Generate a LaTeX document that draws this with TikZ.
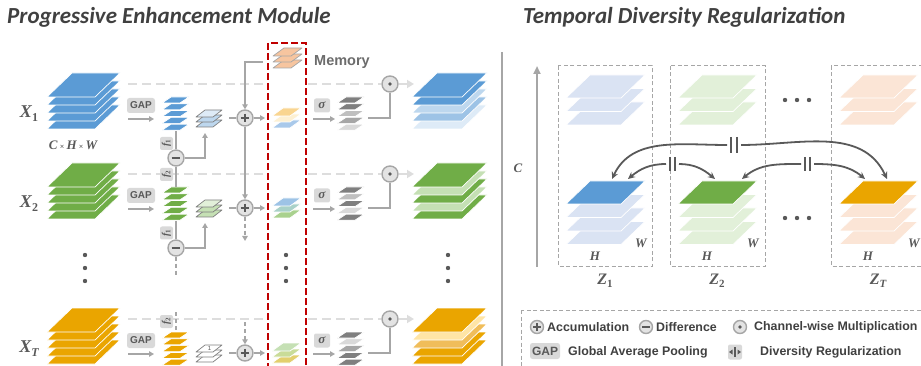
\documentclass[tikz,border=0pt]{standalone}
\usepackage{fontspec}
\setmainfont{Liberation Sans}
\newfontfamily\titlef{Carlito}
\newfontfamily\serf{Liberation Serif}
\usetikzlibrary{arrows.meta}
\definecolor{bD}{HTML}{5B9BD5}
\definecolor{bL}{HTML}{BDD7EE}
\definecolor{bM}{HTML}{9DC3E6}
\definecolor{bV}{HTML}{DEEBF7}
\definecolor{bZ}{HTML}{DAE3F3}
\definecolor{gD}{HTML}{70AD47}
\definecolor{gL}{HTML}{C5E0B4}
\definecolor{gV}{HTML}{E2F0D9}
\definecolor{oD}{HTML}{EAA500}
\definecolor{oL}{HTML}{FFE5A6}
\definecolor{oM}{HTML}{F0BD5A}
\definecolor{oP}{HTML}{FBE5D6}
\definecolor{lg}{HTML}{A6A6A6}
\definecolor{dg}{HTML}{595959}
\definecolor{ll}{HTML}{DDDDDD}
\definecolor{tx}{HTML}{404040}
\definecolor{cf}{HTML}{E3E3E3}
\definecolor{bx}{HTML}{D9D9D9}
\definecolor{rd}{HTML}{C00000}
\definecolor{gA}{HTML}{7F7F7F}
\definecolor{gB}{HTML}{BFBFBF}
\definecolor{gC}{HTML}{D9D9D9}
\definecolor{gM}{HTML}{A6A6A6}
\definecolor{mO}{HTML}{F7C59F}
\definecolor{m1a}{HTML}{F9D590}
\definecolor{m1b}{HTML}{FDF0D2}
\definecolor{m1c}{HTML}{A9C9EA}
\definecolor{m2a}{HTML}{9DC3E6}
\definecolor{m2b}{HTML}{A9D1C8}
\definecolor{m2c}{HTML}{A9D18E}
\definecolor{mTa}{HTML}{C5E0B4}
\definecolor{mTb}{HTML}{C9DC98}
\definecolor{mTc}{HTML}{E2CF6D}
% stack: x(bottom-left) ytop w skew h step n {fill/draw list, bottom to top}
\newcommand\stk[8]{%
  \foreach \fc/\dc [count=\k] in {#8}{%
    \pgfmathsetmacro\yb{#2+#5+(#7-\k)*#6}%
    \filldraw[fill=\fc,draw=\dc,line width=0.7pt,line join=round] (#1,\yb) -- ++(#3,0) -- ++(#4,-#5) -- ++(-#3,0) -- cycle;
  }}
\newcommand\opnode[4]{\node[opc,minimum size=2*#4pt] (#1) at (#2,#3) {};}
\newcommand\plusop[4]{\opnode{#1}{#2}{#3}{#4}\draw[sym] (#2-0.56*#4,#3) -- (#2+0.56*#4,#3) (#2,#3-0.56*#4) -- (#2,#3+0.56*#4);}
\newcommand\minusop[4]{\opnode{#1}{#2}{#3}{#4}\draw[sym] (#2-0.56*#4,#3) -- (#2+0.56*#4,#3);}
\newcommand\dotop[4]{\opnode{#1}{#2}{#3}{#4}\fill[dg] (#2,#3) circle (1.9);}
\begin{document}
\begin{tikzpicture}[x=1pt,y=-1pt,
 ln/.style={draw=lg,line width=2pt},
 arr/.style={ln,-{Triangle[length=5pt,width=5.5pt]}},
 darr/.style={arr,dash pattern=on 4pt off 3pt},
 dln/.style={ln,dash pattern=on 4pt off 3pt},
 dsh/.style={draw=ll,line width=2.8pt,dash pattern=on 9pt off 5pt},
 opc/.style={circle,draw=lg,fill=cf,line width=1.4pt,inner sep=0pt},
 sym/.style={draw=dg,line width=1.9pt},
 gapbox/.style={fill=bx,rounded corners=2.5pt,minimum width=28pt,minimum height=15pt,inner sep=0pt,text=dg,font=\bfseries\fontsize{10}{10}\selectfont},
 sigbox/.style={fill=bx,rounded corners=2pt,minimum width=16pt,minimum height=14pt,inner sep=0pt,text=dg,font=\serf\bfseries\itshape\fontsize{13}{13}\selectfont},
 fbox/.style={fill=bx,rounded corners=2pt,minimum size=13pt,inner sep=0pt,rotate=90,text=dg,font=\serf\bfseries\itshape\fontsize{10}{10}\selectfont},
 lab/.style={text=dg,font=\serf\bfseries\itshape\fontsize{18}{18}\selectfont,inner sep=0pt},
 sml/.style={text=dg,font=\serf\bfseries\itshape\fontsize{13}{13}\selectfont,inner sep=0pt},
 zlab/.style={text=dg,font=\serf\bfseries\itshape\fontsize{16}{16}\selectfont,inner sep=0pt},
 zbox/.style={draw=lg,line width=1pt,dash pattern=on 4pt off 2.5pt},
 rarr/.style={draw=dg,line width=1.8pt,-{Stealth[length=7pt,width=6.5pt]}},
 bar/.style={draw=dg,line width=1.6pt},
 legt/.style={text=tx,font=\bfseries\fontsize{12.4}{12.4}\selectfont,anchor=west,inner sep=0pt},
 ttl/.style={text=tx,font=\titlef\bfseries\itshape\fontsize{23}{23}\selectfont,anchor=base west,inner sep=0pt}
]
\useasboundingbox (0,0) rectangle (921,366);
\clip (0,0) rectangle (921,366);

% titles
\node[ttl] (t1) at (7,24) {Progressive Enhancement Module};
\node[ttl] (t2) at (523,24) {Temporal Diversity Regularization};

% multiplication nodes first, then dashed skip lines
\foreach \o/\n in {0/1,90/2,235/T}{
  \dotop{mul\n}{390}{84+\o}{8}
  \coordinate (xs\n) at (128,84+\o);
  \coordinate (mA\n) at (266,84+\o);
  \coordinate (mB\n) at (308,84+\o);
  \coordinate (oi\n) at (414,84+\o);
  \draw[dsh] (xs\n) -- (mA\n);
  \draw[dsh] (mB\n) -- (mul\n.west);
  \draw[dsh,-{Triangle[length=7pt,width=8pt]}] (mul\n.east) -- (oi\n);
}

% common row parts
\foreach \o/\n in {0/1,90/2,235/T}{
  \node[gapbox] (gap\n) at (141,105.5+\o) {GAP};
  \coordinate (ga\n) at (128,119+\o); \coordinate (gb\n) at (154,119+\o);
  \draw[arr] (ga\n) -- (gb\n);
  \plusop{acc\n}{245}{118+\o}{8}
  \coordinate (ls\n) at (229,118+\o);
  \draw[ln] (ls\n) -- (acc\n.west);
  \coordinate (ms\n) at (265,118+\o);
  \draw[arr] (acc\n.east) -- (ms\n);
  \node[sigbox] (sig\n) at (322,105.5+\o) {σ};
  \coordinate (sa\n) at (313,119+\o); \coordinate (sb\n) at (335,119+\o);
  \draw[arr] (sa\n) -- (sb\n);
  \coordinate (gr\n) at (368,118+\o);
  \draw[ln] (gr\n) -| (mul\n.south);
}

% input stacks
\stk{47}{73}{48}{25}{24}{8}{5}{bD/white,bD/white,bD/white,bD/white,bD/white}
\stk{47}{163}{48}{25}{24}{8}{5}{gD/white,gD/white,gD/white,gD/white,gD/white}
\stk{47}{308}{48}{25}{24}{8}{5}{oD/white,oD/white,oD/white,oD/white,oD/white}
\node[lab] (x1) at (29,114) {X\raisebox{-4pt}{\fontsize{12}{12}\selectfont\upshape 1}};
\node[lab] (x2) at (29,204) {X\raisebox{-4pt}{\fontsize{12}{12}\selectfont\upshape 2}};
\node[lab] (xT) at (29,349) {X\raisebox{-4pt}{\fontsize{12}{12}\selectfont T}};
\node[sml] (chw) at (73,145) {C\,{\fontsize{8}{8}\selectfont\upshape ×}\,H\,{\fontsize{8}{8}\selectfont\upshape ×}\,W};

% GAP output stacks
\stk{162}{97}{18}{9}{6}{6.8}{5}{bD/white,bD/white,bD/white,bD/white,bD/white}
\stk{162}{187}{18}{9}{6}{6.8}{5}{gD/white,gD/white,gD/white,gD/white,gD/white}
\stk{162}{332}{18}{9}{6}{6.8}{5}{oD/white,oD/white,oD/white,oD/white,oD/white}

% difference branch
\minusop{dif1}{176}{158}{8}
\minusop{dif2}{176}{248}{8}
\coordinate (gs1b) at (176,131);
\coordinate (gs2t) at (176,187);
\coordinate (gs2b) at (176,221);
\coordinate (d2e) at (176,276);
\coordinate (dTs) at (176,312);
\coordinate (gsTt) at (176,332);
\draw[ln] (gs1b) -- (dif1.north);
\draw[ln] (dif1.south) -- (gs2t);
\draw[ln] (gs2b) -- (dif2.north);
\draw[dln] (dif2.south) -- (d2e);
\draw[dln] (dTs) -- (gsTt);
\node[fbox] (f11) at (166.5,143.5) {f\raisebox{-1.5pt}{\fontsize{7}{7}\selectfont\upshape 1}};
\node[fbox] (f21) at (166.5,174.5) {f\raisebox{-1.5pt}{\fontsize{7}{7}\selectfont\upshape 2}};
\node[fbox] (f12) at (166.5,233) {f\raisebox{-1.5pt}{\fontsize{7}{7}\selectfont\upshape 1}};
\node[fbox] (f2T) at (166.5,321.5) {f\raisebox{-1.5pt}{\fontsize{7}{7}\selectfont\upshape 2}};
\coordinate (lt1) at (205,133);
\coordinate (lt2) at (205,223);
\draw[arr] (dif1.east) -| (lt1);
\draw[arr] (dif2.east) -| (lt2);

% difference output stacks
\stk{196}{110}{17}{9}{7}{5}{3}{bL/gA,bL/gA,bV/gA}
\stk{196}{200}{17}{9}{7}{5}{3}{gL/gA,gL/gA,gV/gA}
\stk{196}{345}{17}{9}{7}{5}{3}{white/gA,white/gA,white/gA}
\node[font=\fontsize{6}{6}\selectfont,text=dg,inner sep=0pt] (one) at (209.5,348.5) {1};

% accumulation chain
\coordinate (mm) at (263,62);
\draw[arr] (mm) -| (acc1.north);
\draw[arr] (acc1.south) -- (acc2.north);
\coordinate (a2d) at (245,241);
\draw[darr] (acc2.south) -- (a2d);
\coordinate (aTu) at (245,322);
\draw[darr] (aTu) -- (accT.north);

% memory
\stk{273}{48}{18}{11}{8}{6}{3}{mO/gM,mO/gM,mO/gM}
\node[text=gA!85!black,font=\bfseries\fontsize{14.5}{14.5}\selectfont,anchor=west,inner sep=0pt] (meml) at (314,62) {Memory};
\stk{272}{108}{18}{11}{8}{6}{3}{m1c/white,m1b/white,m1a/white}
\stk{272}{198}{18}{11}{8}{6}{3}{m2c/white,m2b/white,m2a/white}
\stk{272}{343}{18}{11}{8}{6}{3}{mTc/white,mTb/white,mTa/white}
\draw[rd,line width=2.4pt,dash pattern=on 7pt off 3pt] (268,43) rectangle (306,380);

% sigmoid weight stacks
\stk{337}{97}{18}{9}{6}{6.8}{5}{gC/white,gM/white,gB/white,gA/white,gA/white}
\stk{337}{187}{18}{9}{6}{6.8}{5}{gA/white,gC/white,gA/white,gB/white,gA/white}
\stk{337}{332}{18}{9}{6}{6.8}{5}{gA/white,gA/white,gM/white,gC/white,gA/white}

% output stacks
\stk{412}{73}{50}{25}{24}{8}{5}{bV/white,bM/white,bL/white,bD/white,bD/white}
\stk{412}{163}{50}{25}{24}{8}{5}{gD/white,gL/white,gD/white,gL/white,gD/white}
\stk{412}{308}{50}{25}{24}{8}{5}{oD/white,oD/white,oM/white,oL/white,oD/white}

% vertical ellipses
\foreach \x in {85,286,448}{\foreach \y in {255,268,281}{\fill[dg] (\x,\y) circle (2.2);}}

% ---------- right panel ----------
\draw[lg,line width=2.5pt] (502,52) -- (502,370);
\coordinate (cb) at (537,267); \coordinate (ct) at (537,66);
\draw[lg,line width=2.5pt,-{Triangle[length=8pt,width=7pt]}] (cb) -- (ct);
\node[sml] (clab) at (518,168) {C};

\draw[zbox] (558,66) rectangle (652,266);
\draw[zbox] (670,66) rectangle (765,266);
\draw[zbox] (831,66) rectangle (940,266);

\stk{566}{75}{55}{24}{23}{13.5}{3}{bZ/white,bZ/white,bZ/white}
\stk{678}{75}{55}{24}{23}{13.5}{3}{gV/white,gV/white,gV/white}
\stk{839}{75}{55}{24}{23}{13.5}{3}{oP/white,oP/white,oP/white}
\stk{566}{181}{55}{24}{23}{13.5}{4}{bZ/white,bZ/white,bZ/white,bD/white}
\stk{678}{181}{55}{24}{23}{13.5}{4}{gV/white,gV/white,gV/white,gD/white}
\stk{839}{181}{55}{24}{23}{13.5}{4}{oP/white,oP/white,oP/white,oD/white}

\foreach \dx/\n/\s in {0/1/1,112/2/2,273/T/T}{
  \node[sml] (h\n) at (595+\dx,256) {H};
  \node[sml] (w\n) at (641+\dx,243) {W};
}
\node[zlab] (z1) at (605,281) {Z\raisebox{-3.5pt}{\fontsize{11}{11}\selectfont\upshape 1}};
\node[zlab] (z2) at (717,281) {Z\raisebox{-3.5pt}{\fontsize{11}{11}\selectfont\upshape 2}};
\node[zlab] (zT) at (878,281) {Z\raisebox{-3.5pt}{\fontsize{11}{11}\selectfont T}};

\foreach \x in {785,797,809}{\fill[dg] (\x,100) circle (2.2); \fill[dg] (\x,218) circle (2.2);}

% diversity arrows
\coordinate (z1a) at (612,179); \coordinate (z1b) at (628,179);
\coordinate (z2a) at (715,179); \coordinate (z2b) at (742,179);
\coordinate (zTa) at (865,179); \coordinate (zTb) at (887,179);
\coordinate (cL) at (727,145); \coordinate (cR) at (741,145);
\coordinate (aL) at (666,164); \coordinate (aR) at (679,164);
\coordinate (bL) at (801,164); \coordinate (bR) at (814,164);
\draw[rarr] (cL) to[out=180,in=65] (z1a);
\draw[rarr] (cR) to[out=0,in=115] (zTb);
\draw[rarr] (aL) to[out=180,in=40] (z1b);
\draw[rarr] (aR) to[out=0,in=140] (z2a);
\draw[rarr] (bL) to[out=180,in=40] (z2b);
\draw[rarr] (bR) to[out=0,in=140] (zTa);
\draw[bar] (731,137) -- (731,153) (737,137) -- (737,153);
\draw[bar] (670,157) -- (670,171) (675,157) -- (675,171);
\draw[bar] (805,157) -- (805,171) (810,157) -- (810,171);

% legend
\draw[zbox] (521,310) rectangle (940,380);
\plusop{lgp}{537}{327}{6.5}
\node[legt] (lt-acc) at (547,327) {Accumulation};
\minusop{lgm}{646}{327}{6.5}
\node[legt] (lt-dif) at (656,327) {Difference};
\dotop{lgd}{740}{327}{6.5}
\node[legt] (lt-mul) at (754,327) {Channel-wise Multiplication};
\node[gapbox,minimum width=30pt,minimum height=16pt,font=\bfseries\fontsize{12}{12}\selectfont] (lgg) at (545,351) {GAP};
\node[legt] (lt-gap) at (568,352) {Global Average Pooling};
\node[fill=bx,rounded corners=2pt,minimum width=14pt,minimum height=15pt,inner sep=0pt] (lgr) at (735,352) {};
\fill[dg] (729,352) -- (732.5,349.5) -- (732.5,354.5) -- cycle;
\fill[dg] (741,352) -- (737.5,349.5) -- (737.5,354.5) -- cycle;
\draw[dg,line width=0.9pt] (734.2,347) -- (734.2,357) (735.8,347) -- (735.8,357);
\node[legt] (lt-div) at (760,352) {Diversity Regularization};
\end{tikzpicture}
\end{document}
